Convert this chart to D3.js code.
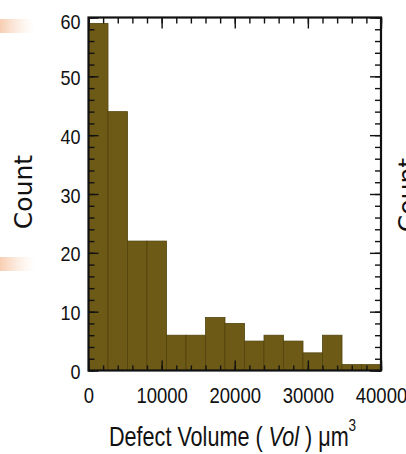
<!DOCTYPE html>
<html>
<head>
<meta charset="utf-8">
<style>
  body { margin: 0; background: #fff; }
  svg { display: block; }
  .tick text { font-family: "Liberation Sans", Arial, sans-serif; fill: #111; }
</style>
</head>
<body>
<div id="chart"></div>
<script src="https://d3js.org/d3.v7.min.js"></script>
<script>
// histogram of defect volumes, 15 bins from 0 to 40000
var binEdges = [0, 2667, 5333, 8000, 10667, 13333, 16000, 18667, 21333, 24000, 26667, 29333, 32000, 34667, 37333, 40000];
var counts = [59, 44, 22, 22, 6, 6, 9, 8, 5, 6, 5, 3, 6, 1, 1];
var xMajorTicks = [0, 10000, 20000, 30000, 40000];
var yMajorTicks = [0, 10, 20, 30, 40, 50, 60];

var width = 406, height = 454;
var plot = {left: 88.5, right: 381, top: 17.5, bottom: 370.5};

var svg = d3.select("#chart").append("svg")
    .attr("width", width)
    .attr("height", height);

// faded slide decorations on the left
var defs = svg.append("defs");
var grad = defs.append("linearGradient").attr("id", "peach");
grad.append("stop").attr("offset", "0%").attr("stop-color", "#f7cdb1").attr("stop-opacity", 1);
grad.append("stop").attr("offset", "100%").attr("stop-color", "#fbe3d2").attr("stop-opacity", 0);
[19, 257].forEach(function(y) {
  svg.append("rect")
      .attr("x", 0).attr("y", y)
      .attr("width", 34).attr("height", 14)
      .style("fill", "url(#peach)");
});

var x = d3.scaleLinear().domain([0, 40000]).range([plot.left, plot.right]);
var y = d3.scaleLinear().domain([0, 60]).range([plot.bottom, plot.top]);

var bins = counts.map(function(c, i) {
  return {x0: binEdges[i], x1: binEdges[i + 1], count: c};
});

svg.append("g").attr("class", "bars")
  .selectAll("rect")
  .data(bins)
  .enter().append("rect")
    .attr("x", d => x(d.x0))
    .attr("y", d => y(d.count))
    .attr("width", d => x(d.x1) - x(d.x0))
    .attr("height", d => y(0) - y(d.count))
    .style("fill", "#6d5a17")
    .style("stroke", "#53440e")
    .style("stroke-width", 0.8);

// minor + major ticks, all pointing inward
var xMinor = d3.range(0, 40001, 2000);
var yMinor = d3.range(0, 61, 2);

function drawAxis(axis, tx, ty, cls) {
  var g = svg.append("g")
      .attr("class", cls)
      .attr("transform", "translate(" + tx + "," + ty + ")")
      .call(axis);
  g.select(".domain").remove();
  g.selectAll(".tick line").attr("stroke", "#111").attr("stroke-width", 1.4);
  return g;
}

drawAxis(d3.axisBottom(x).tickValues(xMinor).tickSize(-5).tickFormat(""), 0, plot.bottom, "xminor");
drawAxis(d3.axisTop(x).tickValues(xMinor).tickSize(-6).tickFormat(""), 0, plot.top, "xminor-top");
drawAxis(d3.axisTop(x).tickValues(xMajorTicks).tickSize(-11).tickFormat(""), 0, plot.top, "xmajor-top");
var xAxis = drawAxis(d3.axisBottom(x).tickValues(xMajorTicks).tickSize(-10).tickPadding(17).tickFormat(d3.format("d")),
    0, plot.bottom, "xmajor");
xAxis.selectAll(".tick text")
    .style("font-size", "22px")
    .attr("transform", "scale(0.84,1)");

drawAxis(d3.axisLeft(y).tickValues(yMinor).tickSize(-6).tickFormat(""), plot.left, 0, "yminor");
drawAxis(d3.axisRight(y).tickValues(yMinor).tickSize(-6).tickFormat(""), plot.right, 0, "yminor-right");
drawAxis(d3.axisRight(y).tickValues(yMajorTicks).tickSize(-11).tickFormat(""), plot.right, 0, "ymajor-right");
var yAxis = drawAxis(d3.axisLeft(y).tickValues(yMajorTicks).tickSize(-10).tickPadding(9),
    plot.left, 0, "ymajor");
yAxis.selectAll(".tick text")
    .style("font-size", "20px")
    .attr("dy", d => d === 60 ? "0.55em" : "0.4em")
    .attr("transform", "scale(0.9,1)");

// frame
svg.append("rect")
    .attr("x", plot.left).attr("y", plot.top)
    .attr("width", plot.right - plot.left)
    .attr("height", plot.bottom - plot.top)
    .style("fill", "none")
    .style("stroke", "#111")
    .style("stroke-width", 2.2);

// axis titles
var xlabel = svg.append("text")
    .attr("transform", "translate(109,446) scale(0.8,1)")
    .style("font-family", "'Liberation Sans', Arial, sans-serif")
    .style("font-size", "27px")
    .style("fill", "#111");
xlabel.append("tspan").text("Defect Volume ( ");
xlabel.append("tspan").style("font-style", "italic").text("Vol");
xlabel.append("tspan").text(" ) \u03bcm");
xlabel.append("tspan").attr("dy", -15).style("font-size", "17px").text("3");

// the left label, plus the clipped label of the neighbouring panel
[[32, 192], [416, 195]].forEach(function(p) {
  svg.append("text")
      .attr("transform", "translate(" + p[0] + "," + p[1] + ") rotate(-90)")
      .attr("text-anchor", "middle")
      .style("font-family", "'DejaVu Sans', Verdana, sans-serif")
      .style("font-size", "25px")
      .style("fill", "#111")
      .text("Count");
});
</script>
</body>
</html>
